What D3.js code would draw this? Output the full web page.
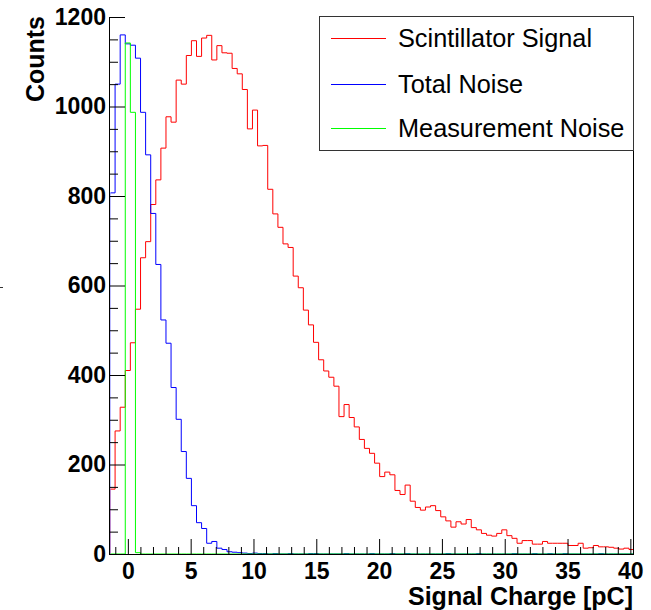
<!DOCTYPE html>
<meta charset="utf-8">
<head>
<script src="https://cdn.jsdelivr.net/npm/d3@7"></script>
<style>
  body { margin: 0; background: #fff; }
  svg { font-family: "Liberation Sans", Arial, Helvetica, sans-serif; }
  .axis text { font-size: 23px; font-weight: bold; fill: #000; }
  .axis path, .axis line { stroke: #000; }
  .title { font-size: 25px; font-weight: bold; }
  .legend text { font-size: 25.3px; }
</style>
</head>
<body>
<svg id="svg"></svg>
<script>
// histogram binning (bin width in pC, first low edge)
var binStart = -1.42, binWidth = 0.405;

var seriesNames = ["Scintillator Signal", "Total Noise", "Measurement Noise"];
var seriesColors = ["#ff0000", "#0000ff", "#00ff00"];

var signalCounts = [
  145, 275, 328, 410, 472, 547, 662, 698, 781, 836,
  907, 977, 965, 1059, 1050, 1114, 1147, 1112, 1153, 1159,
  1104, 1136, 1120, 1119, 1085, 1073, 1038, 950, 992, 912,
  913, 815, 760, 730, 693, 685, 621, 595, 545, 512,
  473, 434, 409, 395, 375, 307, 334, 305, 284, 256,
  236, 225, 203, 173, 183, 177, 142, 133, 154, 118,
  104, 98, 105, 108, 97, 83, 74, 60, 72, 67,
  77, 59, 54, 46, 42, 40, 46, 54, 41, 35,
  24, 30, 30, 22, 22, 28, 24, 24, 24, 24,
  19, 19, 24, 13, 14, 19, 16, 16, 15, 13,
  11, 13, 10
];

var totalNoiseCounts = [
  807, 1050, 1160, 1140, 1137, 1108, 987, 892, 761, 647,
  523, 471, 372, 301, 229, 169, 108, 70, 57, 24,
  28, 13, 10, 5, 4, 3, 2, 1, 2, 1,
  1, 0, 1, 0, 0, 1, 0, 0, 0, 1,
  1, 0, 0, 0, 0, 0, 1, 0, 0, 0,
  0, 1, 0, 0, 0, 1, 0, 0, 1, 0,
  0, 0, 0, 0, 0, 0, 1, 0, 0, 0,
  0, 0, 1, 0, 0, 0, 0, 0, 0, 1,
  0, 0, 0, 1, 0, 0, 1, 0, 0, 1,
  0, 0, 0, 0, 0, 0, 1, 0, 0, 0,
  0, 0, 0
];

var measNoiseCounts = [
  0, 0, 0, 1142, 987, 3, 0, 0, 0, 0,
  0, 0, 0, 0, 0, 0, 0, 0, 0, 0,
  0, 0, 0, 0, 0, 0, 0, 0, 0, 0,
  0, 0, 0, 0, 0, 0, 0, 0, 0, 0,
  0, 0, 0, 0, 0, 0, 0, 0, 0, 0,
  0, 0, 0, 0, 0, 0, 0, 0, 0, 0,
  0, 0, 0, 0, 0, 0, 0, 0, 0, 0,
  0, 0, 0, 0, 0, 0, 0, 0, 0, 0,
  0, 0, 0, 0, 0, 0, 0, 0, 0, 0,
  0, 0, 0, 0, 0, 0, 0, 0, 0, 0,
  0, 0, 0
];

var xMajorTicks = [0, 5, 10, 15, 20, 25, 30, 35, 40];
var yMajorTicks = [0, 200, 400, 600, 800, 1000, 1200];

var width = 651, height = 610;
var plotL = 109, plotR = 633.5, plotT = 17, plotB = 554;

var svg = d3.select("#svg")
  .attr("width", width)
  .attr("height", height)
  .style("background-color", "#fff");

var x = d3.scaleLinear().domain([-1.5, 40.25]).range([plotL, plotR]);
var y = d3.scaleLinear().domain([0, 1200]).range([plotB, plotT]);

var xMinor = d3.range(-1, 41, 1).filter(d => d % 5 != 0);
var yMinor = d3.range(0, 1201, 50).filter(d => d % 200 != 0);

// hide the first-bin risers behind the y axis
svg.append("defs").append("clipPath").attr("id", "plot")
  .append("rect")
  .attr("x", plotL + 1.5).attr("y", 0)
  .attr("width", plotR - plotL - 1.5).attr("height", plotB + 3);

// step line for one histogram
function histPath(counts) {
  var pts = [[binStart, 0]];
  counts.forEach((c, i) => pts.push([binStart + i * binWidth, c]));
  var hi = binStart + counts.length * binWidth;
  pts.push([hi, counts[counts.length - 1]]);
  pts.push([hi, 0]);
  return d3.line()
    .x(d => x(d[0]))
    .y(d => y(d[1]))
    .curve(d3.curveStepAfter)(pts);
}

var hists = svg.append("g").attr("clip-path", "url(#plot)");

// signal first, then axes, then noise histograms on top
hists.append("path")
  .attr("d", histPath(signalCounts))
  .attr("fill", "none")
  .attr("stroke", seriesColors[0])
  .attr("stroke-width", 1);

// x axis
svg.append("g").attr("class", "axis")
  .attr("transform", "translate(0," + plotB + ")")
  .call(d3.axisBottom(x).tickValues(xMinor).tickSize(-7).tickSizeOuter(0).tickFormat(""));
svg.append("g").attr("class", "axis")
  .attr("transform", "translate(0," + plotB + ")")
  .call(d3.axisBottom(x).tickValues(xMajorTicks).tickSize(-15).tickSizeOuter(0)
    .tickPadding(9).tickFormat(d3.format("d")));

// y axis
svg.append("g").attr("class", "axis")
  .attr("transform", "translate(" + plotL + ",0)")
  .call(d3.axisLeft(y).tickValues(yMinor).tickSize(-9).tickSizeOuter(0).tickFormat(""));
svg.append("g").attr("class", "axis")
  .attr("transform", "translate(" + plotL + ",0)")
  .call(d3.axisLeft(y).tickValues(yMajorTicks).tickSize(-16).tickSizeOuter(0)
    .tickPadding(3).tickFormat(d3.format("d")));

// right frame edge
svg.append("line")
  .attr("x1", plotR).attr("x2", plotR)
  .attr("y1", plotT).attr("y2", plotB)
  .attr("stroke", "#000");

hists.append("path")
  .attr("d", histPath(totalNoiseCounts))
  .attr("fill", "none")
  .attr("stroke", seriesColors[1])
  .attr("stroke-width", 1);

hists.append("path")
  .attr("d", histPath(measNoiseCounts))
  .attr("fill", "none")
  .attr("stroke", seriesColors[2])
  .attr("stroke-width", 1);

// axis titles
svg.append("text")
  .attr("class", "title")
  .attr("transform", "translate(44,16) rotate(-90)")
  .attr("text-anchor", "end")
  .text("Counts");

svg.append("text")
  .attr("class", "title")
  .attr("x", 633)
  .attr("y", 605)
  .attr("text-anchor", "end")
  .text("Signal Charge [pC]");

// stray mark at the left edge
svg.append("line")
  .attr("x1", 0).attr("x2", 3)
  .attr("y1", 287.5).attr("y2", 287.5)
  .attr("stroke", "#333");

// legend
var legend = svg.append("g").attr("class", "legend");
legend.append("rect")
  .attr("x", 319.5).attr("y", 16.5)
  .attr("width", plotR - 319.5).attr("height", 134)
  .attr("fill", "#fff")
  .attr("stroke", "#333");

var rows = legend.selectAll("g.row")
  .data(seriesNames)
  .enter().append("g")
  .attr("class", "row")
  .attr("transform", (d, i) => "translate(0," + [38.5, 84.5, 128.5][i] + ")");

rows.append("line")
  .attr("x1", 331).attr("x2", 386)
  .attr("stroke", (d, i) => seriesColors[i]);

rows.append("text")
  .attr("x", 398)
  .attr("dy", "0.35em")
  .text(d => d);
</script>
</body>
